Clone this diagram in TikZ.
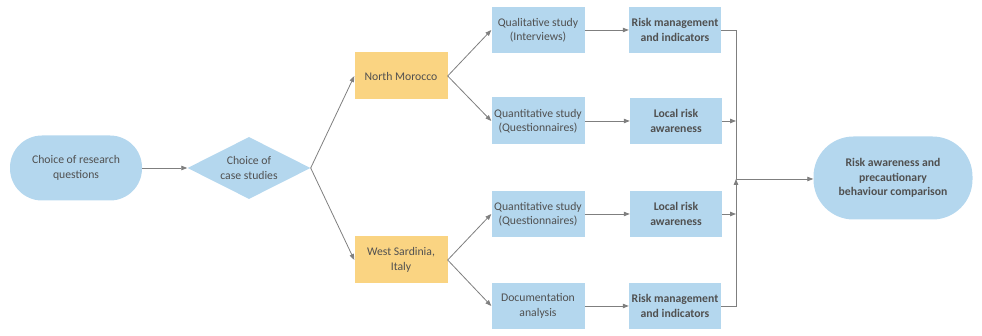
\documentclass[tikz,border=0pt]{standalone}
\usepackage{fontspec}
\setmainfont{Carlito}
\usetikzlibrary{arrows.meta,shapes.geometric}
\definecolor{boxblue}{HTML}{B4D7EE}
\definecolor{boxorange}{HTML}{FAD482}
\definecolor{linegray}{HTML}{7F7F7F}
\definecolor{txtgray}{HTML}{505050}
\begin{document}
\begin{tikzpicture}[x=1pt,y=-1pt,
  base/.style={inner sep=0pt, align=center, text=txtgray, font=\fontsize{11.7}{14.3}\selectfont},
  stadium/.style={base, fill=boxblue, rounded corners=#1},
  choice/.style={base, shape=diamond, fill=boxblue, minimum width=123pt, minimum height=62pt, aspect=2},
  place/.style={base, fill=boxorange, minimum width=93pt, minimum height=47pt},
  study/.style={base, fill=boxblue, minimum width=93pt, minimum height=46pt},
  result/.style={base, fill=boxblue, minimum width=92pt, minimum height=46pt, font=\fontsize{11.7}{14.3}\selectfont\bfseries},
  conn/.style={draw=linegray, line width=0.8pt, -{Triangle[length=6pt,width=4.5pt]}},
  plain/.style={draw=linegray, line width=0.8pt}
]
\useasboundingbox (0,0) rectangle (982,336);

\node[stadium=32pt, minimum width=132pt, minimum height=65pt] (rq) at (76,168) {Choice of research\\questions};
\node[choice] (cs) at (249,168) {Choice of\\case studies};

\node[place] (nm) at (401,76) {North Morocco};
\node[place] (ws) at (401,260) {West Sardinia,\\Italy};

\node[study] (q1) at (538,30) {Qualitative study\\(Interviews)};
\node[study, minimum height=47pt] (q2) at (538,121) {Quantitative study\\(Questionnaires)};
\node[study] (q3) at (538,214) {Quantitative study\\(Questionnaires)};
\node[study] (q4) at (538,306) {Documentation\\analysis};

\node[result] (r1) at (675,30) {Risk management\\and indicators};
\node[result] (r2) at (676,121) {Local risk\\awareness};
\node[result] (r3) at (676,214) {Local risk\\awareness};
\node[result] (r4) at (675,306) {Risk management\\and indicators};

\node[stadium=40pt, base, font=\fontsize{11.7}{14.3}\selectfont\bfseries, minimum width=159pt, minimum height=83pt] (fin) at (893,178) {Risk awareness and\\precautionary\\behaviour comparison};

\coordinate (j) at (736,179);

\draw[conn] (rq) -- (cs);
\draw[conn] (cs.east) -- (nm.west);
\draw[conn] (cs.east) -- (ws.west);
\draw[conn] (nm.east) -- (q1.west);
\draw[conn] (nm.east) -- (q2.west);
\draw[conn] (ws.east) -- (q3.west);
\draw[conn] (ws.east) -- (q4.west);
\draw[conn] (q1) -- (r1);
\draw[conn] (q2) -- (r2);
\draw[conn] (q3) -- (r3);
\draw[conn] (q4) -- (r4);

\draw[plain] (r1.east) -| (j);
\draw[conn] (r4.east) -| (j);
\draw[conn] (r2.east) -- (r2.east -| j);
\draw[conn] (r3.east) -- (r3.east -| j);
\draw[conn] (j) -- (fin.west |- j);
\end{tikzpicture}
\end{document}
